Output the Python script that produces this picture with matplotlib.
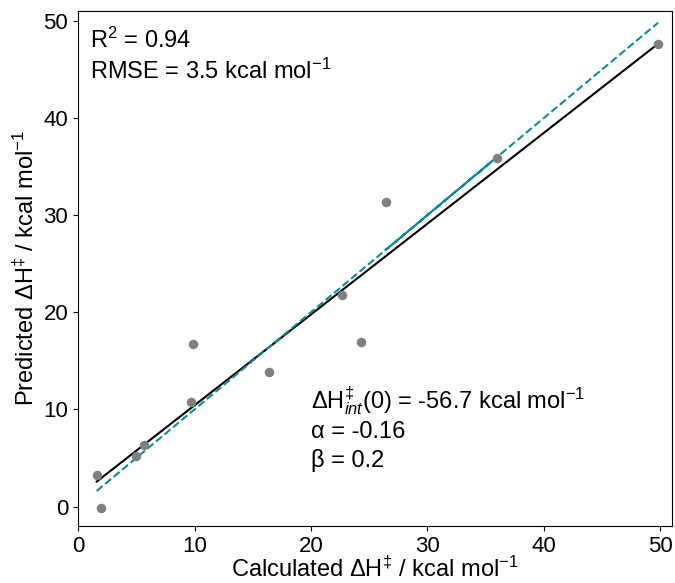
import numpy as np
import matplotlib
matplotlib.use("Agg")
import matplotlib.pyplot as plt

plt.rcParams['font.family'] = ['Liberation Sans', 'DejaVu Sans']
plt.rcParams['mathtext.fontset'] = 'custom'
plt.rcParams['mathtext.rm'] = 'Liberation Sans'
plt.rcParams['mathtext.it'] = 'Liberation Sans:italic'
plt.rcParams['mathtext.bf'] = 'Liberation Sans:bold'

# calculated vs predicted barrier heights (kcal/mol), in file order
calc = [1.6, 2.0, 5.0, 5.7, 9.7, 9.9, 16.4, 22.7, 24.3, 36.0, 26.4, 49.8]
pred = [3.2, -0.1, 5.2, 6.3, 10.8, 16.7, 13.8, 21.8, 16.9, 35.9, 31.3, 47.6]

# fitted line
fit_slope = 0.935
fit_icpt = 1.07

r2 = 0.94
rmse = 3.5
dh_int0 = -56.7
alpha = -0.16
beta = 0.2

calc = np.array(calc)
pred = np.array(pred)

fig = plt.figure(figsize=(6.75, 5.83), dpi=100)
ax = fig.add_axes([0.1156, 0.0978, 0.88, 0.8832])

ax.scatter(calc, pred, s=34, color='grey', zorder=3)
xs = np.sort(calc)
ax.plot(xs, fit_slope * xs + fit_icpt, color='black', lw=1.5, zorder=2)
# y = x reference drawn through the unsorted x values
ax.plot(calc, calc, '--', color='#0e8c9b', lw=1.5, zorder=2)

ax.set_xlim(0, 51)
ax.set_ylim(-2, 51)
ax.set_xticks([0, 10, 20, 30, 40, 50])
ax.set_yticks([0, 10, 20, 30, 40, 50])
ax.tick_params(labelsize=16)

ax.set_xlabel(r'Calculated $\Delta$H$^{‡}$ / kcal mol$^{-1}$', fontsize=17, labelpad=0)
ax.set_ylabel(r'Predicted $\Delta$H$^{‡}$ / kcal mol$^{-1}$', fontsize=17, labelpad=3)

ax.text(0.02, 0.928, 'R$^2$ = %.2f' % r2, transform=ax.transAxes,
        fontsize=17, va='baseline', ha='left')
ax.text(0.02, 0.869, 'RMSE = %.1f kcal mol$^{-1}$' % rmse, transform=ax.transAxes,
        fontsize=17, va='baseline', ha='left')

ax.text(20, 10.0, r'$\Delta$H$^{‡}_{int}$(0) = %.1f kcal mol$^{-1}$' % dh_int0,
        fontsize=17, va='baseline', ha='left')
ax.text(20, 7.1, 'α = %.2f' % alpha, fontsize=17, va='baseline', ha='left')
ax.text(20, 4.1, 'β = %.1f' % beta, fontsize=17, va='baseline', ha='left')

fig.savefig('out.png', dpi=100)
